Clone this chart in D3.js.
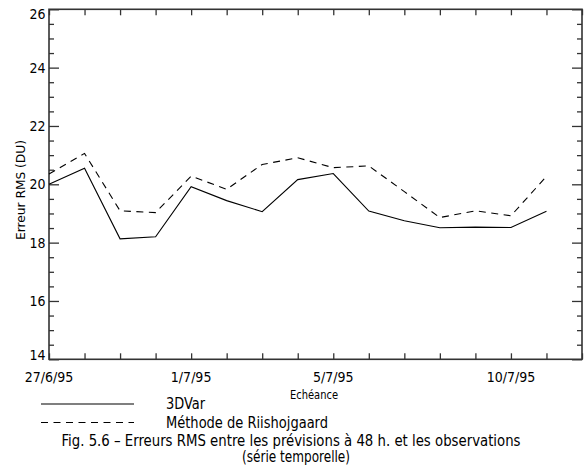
<!DOCTYPE html>
<html>
<head>
<meta charset="utf-8">
<script src="https://cdn.jsdelivr.net/npm/d3@7"></script>
<style>
body { margin: 0; background: #fff; }
text { font-family: "DejaVu Sans Condensed", "DejaVu Sans", sans-serif; font-stretch: condensed; fill: #000; }
</style>
</head>
<body>
<div id="chart"></div>
<script>
// daily values, 27/6/95 .. 11/7/95
var days = ["1995-06-27", "1995-06-28", "1995-06-29", "1995-06-30", "1995-07-01",
            "1995-07-02", "1995-07-03", "1995-07-04", "1995-07-05", "1995-07-06",
            "1995-07-07", "1995-07-08", "1995-07-09", "1995-07-10", "1995-07-11"];
var var3d = [20.0, 20.55, 18.13, 18.2, 19.92, 19.44, 19.06, 20.16, 20.37, 19.08,
             18.75, 18.51, 18.53, 18.52, 19.08];
var riishojgaard = [20.35, 21.06, 19.09, 19.03, 20.28, 19.83, 20.68, 20.91, 20.57, 20.63,
                    19.75, 18.86, 19.09, 18.92, 20.27];
var xLabelDays = ["1995-06-27", "1995-07-01", "1995-07-05", "1995-07-10"];
var xDomain = ["1995-06-27", "1995-07-12"];
var yMajor = [14, 16, 18, 20, 22, 24, 26];
var seriesNames = ["3DVar", "Méthode de Riishojgaard"];
var caption = ["Fig. 5.6 \u2013 Erreurs RMS entre les prévisions à 48 h. et les observations",
               "(série temporelle)"];

var width = 585, height = 474;
var plot = { left: 49, right: 582, top: 9.3, bottom: 359.3 };
var parse = d3.utcParse("%Y-%m-%d");
var fmt = d3.utcFormat("%-d/%-m/%y");

var svg = d3.select("#chart").append("svg")
    .attr("width", width)
    .attr("height", height);

var x = d3.scaleUtc()
    .domain(xDomain.map(parse))
    .range([plot.left, plot.right]);

var y = d3.scaleLinear()
    .domain([14, 26])
    .range([plot.bottom, plot.top]);

var axisColor = "#333";

// ticks: every day on x, every 0.5 on y (major every 2)
var dayTicks = d3.utcDay.range(parse(xDomain[0]), d3.utcDay.offset(parse(xDomain[1]), 1));
var yMinor = d3.range(14, 26.01, 0.5).filter(function(v) { return v % 2 != 0; });

var gx = svg.append("g").attr("class", "xaxis");
gx.append("g")
    .attr("transform", "translate(0," + plot.bottom + ")")
    .call(d3.axisBottom(x).tickValues(dayTicks).tickSize(-6).tickFormat(""))
    .call(function(g) { g.select(".domain").remove(); });
gx.append("g")
    .attr("transform", "translate(0," + plot.top + ")")
    .call(d3.axisTop(x).tickValues(dayTicks).tickSize(-6).tickFormat(""))
    .call(function(g) { g.select(".domain").remove(); });

var gy = svg.append("g").attr("class", "yaxis");
[[plot.left, d3.axisLeft], [plot.right, d3.axisRight]].forEach(function(s) {
    gy.append("g")
        .attr("transform", "translate(" + s[0] + ",0)")
        .call(s[1](y).tickValues(yMajor).tickSize(-10).tickFormat(""))
        .call(function(g) { g.select(".domain").remove(); });
    gy.append("g")
        .attr("transform", "translate(" + s[0] + ",0)")
        .call(s[1](y).tickValues(yMinor).tickSize(-5).tickFormat(""))
        .call(function(g) { g.select(".domain").remove(); });
});

svg.selectAll(".tick line")
    .attr("stroke", axisColor)
    .attr("stroke-width", 1.3);

// frame
svg.append("rect")
    .attr("x", plot.left)
    .attr("y", plot.top)
    .attr("width", plot.right - plot.left)
    .attr("height", plot.bottom - plot.top)
    .attr("fill", "none")
    .attr("stroke", axisColor)
    .attr("stroke-width", 1.6);

// tick labels
svg.selectAll(".xlab")
    .data(xLabelDays.map(parse))
    .enter().append("text")
    .attr("class", "xlab")
    .attr("x", function(d) { return x(d); })
    .attr("y", 381.5)
    .attr("text-anchor", "middle")
    .style("font-size", "14px")
    .text(fmt);

svg.selectAll(".ylab")
    .data(yMajor)
    .enter().append("text")
    .attr("class", "ylab")
    .attr("x", 45.5)
    .attr("y", function(d) { return Math.min(Math.max(y(d), plot.top + 5), plot.bottom - 4); })
    .attr("dy", "0.36em")
    .attr("text-anchor", "end")
    .style("font-size", "14px")
    .text(function(d) { return d; });

// axis titles
svg.append("text")
    .attr("x", 314)
    .attr("y", 399)
    .attr("text-anchor", "middle")
    .attr("textLength", 48)
    .attr("lengthAdjust", "spacingAndGlyphs")
    .style("font-size", "12px")
    .text("Echéance");

svg.append("text")
    .attr("transform", "translate(25,190) rotate(-90)")
    .attr("text-anchor", "middle")
    .attr("textLength", 100)
    .attr("lengthAdjust", "spacingAndGlyphs")
    .style("font-size", "12px")
    .text("Erreur RMS (DU)");

// series
var line = d3.line()
    .x(function(d, i) { return x(parse(days[i])); })
    .y(function(d) { return y(d); });

var dashes = [null, "7,5.5"];

svg.append("path")
    .datum(var3d)
    .attr("d", line)
    .attr("fill", "none")
    .attr("stroke", "#000")
    .attr("stroke-width", 1.1);

svg.append("path")
    .datum(riishojgaard)
    .attr("d", line)
    .attr("fill", "none")
    .attr("stroke", "#000")
    .attr("stroke-width", 1.1)
    .attr("stroke-dasharray", dashes[1]);

// legend
var legend = svg.append("g").attr("class", "legend");
var legendRows = [{ y: 404, w: 39 }, { y: 422.5, w: 162 }];
seriesNames.forEach(function(name, i) {
    var row = legendRows[i];
    legend.append("line")
        .attr("x1", 41).attr("x2", 134)
        .attr("y1", row.y).attr("y2", row.y)
        .attr("stroke", "#000")
        .attr("stroke-width", 1.1)
        .attr("stroke-dasharray", dashes[i]);
    legend.append("text")
        .attr("x", 166)
        .attr("y", row.y + 5)
        .attr("textLength", row.w)
        .attr("lengthAdjust", "spacingAndGlyphs")
        .style("font-size", "16px")
        .text(name);
});

// caption
svg.append("text")
    .attr("x", 291)
    .attr("y", 445.5)
    .attr("text-anchor", "middle")
    .attr("textLength", 459)
    .attr("lengthAdjust", "spacingAndGlyphs")
    .style("font-size", "15px")
    .text(caption[0]);

svg.append("text")
    .attr("x", 296)
    .attr("y", 462)
    .attr("text-anchor", "middle")
    .attr("textLength", 108)
    .attr("lengthAdjust", "spacingAndGlyphs")
    .style("font-size", "15px")
    .text(caption[1]);
</script>
</body>
</html>
